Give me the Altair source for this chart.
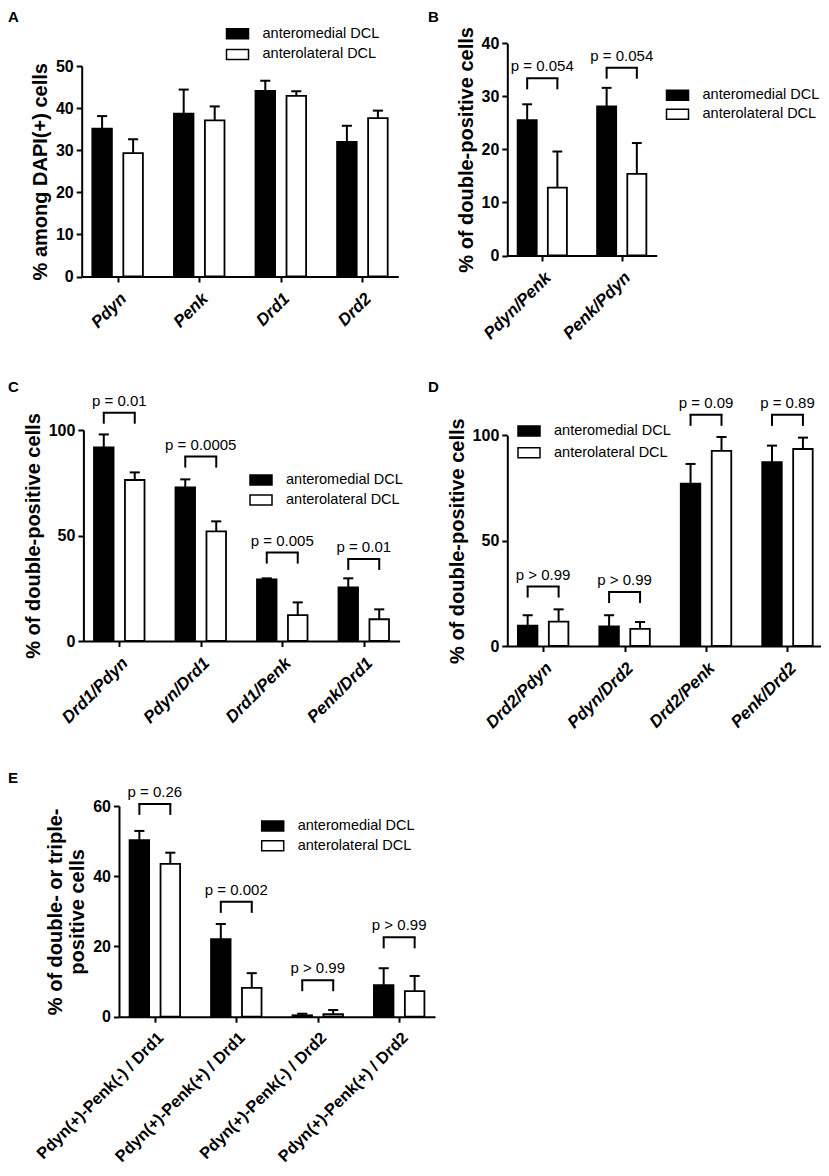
import json
import altair as alt
import pandas as pd

FONT = "Liberation Sans"
GROUPS = ["anteromedial DCL", "anterolateral DCL"]

# ---------------- data ----------------
# Panel A
a_cats = ["Pdyn", "Penk", "Drd1", "Drd2"]
a_med = [35.1, 38.7, 44.1, 32.0]
a_med_sem = [3.0, 5.7, 2.4, 3.8]
a_lat = [29.3, 37.1, 42.9, 37.6]
a_lat_sem = [3.3, 3.3, 1.1, 1.8]

# Panel B
b_cats = ["Pdyn/Penk", "Penk/Pdyn"]
b_med = [25.5, 28.1]
b_med_sem = [3.0, 3.5]
b_lat = [12.8, 15.4]
b_lat_sem = [6.8, 5.8]
b_brk = [33.4, 35.4]
b_p = ["p = 0.054", "p = 0.054"]

# Panel C
c_cats = ["Drd1/Pdyn", "Pdyn/Drd1", "Drd1/Penk", "Penk/Drd1"]
c_med = [91.8, 72.8, 29.2, 25.4]
c_med_sem = [6.1, 3.8, 0.5, 4.3]
c_lat = [76.3, 52.0, 12.3, 10.3]
c_lat_sem = [3.6, 4.7, 6.0, 4.7]
c_brk = [108.2, 87.4, 41.9, 38.9]
c_p = ["p = 0.01", "p = 0.0005", "p = 0.005", "p = 0.01"]

# Panel D
d_cats = ["Drd2/Pdyn", "Pdyn/Drd2", "Drd2/Penk", "Penk/Drd2"]
d_med = [9.6, 9.3, 77.1, 87.3]
d_med_sem = [5.0, 5.3, 9.3, 7.8]
d_lat = [11.6, 8.1, 92.6, 93.5]
d_lat_sem = [5.8, 3.3, 6.6, 5.4]
d_brk = [28.2, 25.6, 109.7, 109.7]
d_p = ["p > 0.99", "p > 0.99", "p = 0.09", "p = 0.89"]

# Panel E
e_cats = ["Pdyn(+)-Penk(-) / Drd1", "Pdyn(+)-Penk(+) / Drd1",
          "Pdyn(+)-Penk(-) / Drd2", "Pdyn(+)-Penk(+) / Drd2"]
e_med = [50.3, 22.1, 0.4, 9.0]
e_med_sem = [2.6, 4.3, 0.45, 4.8]
e_lat = [43.5, 8.2, 0.7, 7.3]
e_lat_sem = [3.2, 4.2, 1.2, 4.3]
e_brk = [60.6, 32.7, 10.4, 22.6]
e_p = ["p = 0.26", "p = 0.002", "p > 0.99", "p > 0.99"]

# ---------------- layout (page pixel geometry) ----------------
W, H = 813, 1160
M = 8  # page margin

geo = {
    "A": dict(x0=81.7, x1=398.3, y0=276.5, ytop=66.0, ymax=50, yticks=[0, 10, 20, 30, 40, 50],
              title="% among DAPI(+) cells", lx=218.5, ly=14.7, rp=1.7,
              lstyle="italic", lsize=17, lpad=8),
    "B": dict(x0=507.3, x1=656.7, y0=255.5, ytop=43.3, ymax=40, yticks=[0, 10, 20, 30, 40],
              title="% of double-positive cells", lx=658.5, ly=76.3, rp=0.0,
              lstyle="italic", lsize=17, lpad=8),
    "C": dict(x0=83.4, x1=399.6, y0=641.0, ytop=430.0, ymax=100, yticks=[0, 50, 100],
              title="% of double-positive cells", lx=242.0, ly=461.0, rp=1.0,
              lstyle="italic", lsize=17, lpad=8),
    "D": dict(x0=507.3, x1=823.3, y0=646.0, ytop=435.3, ymax=100, yticks=[0, 50, 100],
              title="% of double-positive cells", lx=510.0, ly=412.0, rp=2.7,
              lstyle="italic", lsize=17, lpad=8),
    "E": dict(x0=119.0, x1=435.0, y0=1016.7, ytop=806.0, ymax=60, yticks=[0, 20, 40, 60],
              title=["% of double- or triple-", "positive cells"], lx=253.7, ly=807.0, rp=0.7,
              lstyle="normal", lsize=16.3, lpad=7),
}


def panel(cats, med, med_sem, lat, lat_sem, brk, plab, g):
    n = len(cats)
    df = pd.DataFrame({
        "idx": list(range(n)) * 2,
        "gi": [0] * n + [1] * n,
        "group": [GROUPS[0]] * n + [GROUPS[1]] * n,
        "mean": med + lat,
        "sem": med_sem + lat_sem,
    })
    xs = alt.Scale(domain=[-0.44, n - 0.56], range=[g["x0"] - M, g["x1"] - M],
                   nice=False, zero=False)
    ys = alt.Scale(domain=[0, g["ymax"]], range=[g["y0"] - M, g["ytop"] - M],
                   nice=False, zero=False)

    base = alt.Chart(df).transform_calculate(
        c="datum.idx + (datum.gi == 0 ? -0.19 : 0.19)",
        top="datum.mean + datum.sem",
    ).transform_calculate(
        l="datum.c - 0.12", r="datum.c + 0.12",
        cl="datum.c - 0.062", cr="datum.c + 0.062",
    )

    xaxis = alt.Axis(
        orient="bottom", offset=(g["y0"] - M) - H, values=list(range(n)),
        labelExpr=f"{json.dumps(cats)}[datum.value]", title=None, grid=False,
        domainColor="black", domainWidth=2, tickColor="black", tickWidth=2, tickSize=5.5,
        labelAngle=-45, labelAlign="right", labelBaseline="top", labelPadding=g["lpad"],
        labelFont=FONT, labelFontSize=g["lsize"], labelFontWeight="bold",
        labelFontStyle=g["lstyle"], labelColor="black", labelOverlap=False,
        labelFlush=False, labelLimit=400,
    )
    yaxis = alt.Axis(
        orient="left", offset=-(g["x0"] - M), values=g["yticks"], title=g["title"],
        titleFont=FONT, titleFontSize=20, titleFontWeight="bold", titleColor="black",
        titlePadding=5, titleLineHeight=22, grid=False,
        domainColor="black", domainWidth=2, tickColor="black", tickWidth=2, tickSize=5.5,
        labelFont=FONT, labelFontSize=16, labelFontWeight="bold", labelColor="black",
        labelPadding=3, labelFlush=False,
    )
    legend = alt.Legend(
        title=None, orient="none", legendX=g["lx"], legendY=g["ly"], padding=0,
        rowPadding=g["rp"], symbolType="M-1.1,-0.5H1.1V0.5H-1.1Z", symbolSize=400,
        symbolStrokeColor="black", symbolStrokeWidth=1.5,
        labelFont=FONT, labelFontSize=14.5, labelColor="black", labelOffset=14.0,
        labelLimit=300,
    )

    bars = base.mark_bar(stroke="black", strokeWidth=1.8).encode(
        x=alt.X("l:Q", scale=xs, axis=xaxis),
        x2="r:Q",
        y=alt.Y("mean:Q", scale=ys, axis=yaxis, stack=None),
        y2=alt.datum(0),
        fill=alt.Fill("group:N", scale=alt.Scale(domain=GROUPS, range=["black", "white"]),
                      legend=legend),
    )
    err = base.mark_rule(color="black", strokeWidth=2).encode(
        x=alt.X("c:Q", scale=xs, axis=None),
        y=alt.Y("mean:Q", scale=ys, axis=None),
        y2="top:Q",
    )
    cap = base.mark_rule(color="black", strokeWidth=2).encode(
        x=alt.X("cl:Q", scale=xs, axis=None),
        x2="cr:Q",
        y=alt.Y("top:Q", scale=ys, axis=None),
    )
    layers = [bars, err, cap]

    if brk:
        bdf = pd.DataFrame({"idx": list(range(n)), "brk": brk, "label": plab})
        bb = alt.Chart(bdf).transform_calculate(l="datum.idx - 0.19", r="datum.idx + 0.19")
        hline = bb.mark_rule(color="black", strokeWidth=2, strokeCap="square").encode(
            x=alt.X("l:Q", scale=xs, axis=None), x2="r:Q",
            y=alt.Y("brk:Q", scale=ys, axis=None),
        )
        legs = bb.transform_fold(["l", "r"], as_=["side", "lx"]).mark_rule(
            color="black", strokeWidth=2, y2Offset=11
        ).encode(
            x=alt.X("lx:Q", scale=xs, axis=None),
            y=alt.Y("brk:Q", scale=ys, axis=None),
            y2="brk:Q",
        )
        txt = bb.mark_text(font=FONT, fontSize=15, baseline="alphabetic", dy=-7,
                           color="black").encode(
            x=alt.X("idx:Q", scale=xs, axis=None),
            y=alt.Y("brk:Q", scale=ys, axis=None),
            text="label:N",
        )
        layers += [hline, legs, txt]
    return layers


def letter(ch, x, y):
    return alt.Chart(pd.DataFrame({"L": [ch]})).mark_text(
        font=FONT, fontSize=15, fontWeight="bold", color="black",
        align="left", baseline="middle"
    ).encode(text="L:N", x=alt.value(x), y=alt.value(y))


all_layers = []
all_layers += panel(a_cats, a_med, a_med_sem, a_lat, a_lat_sem, None, None, geo["A"])
all_layers += panel(b_cats, b_med, b_med_sem, b_lat, b_lat_sem, b_brk, b_p, geo["B"])
all_layers += panel(c_cats, c_med, c_med_sem, c_lat, c_lat_sem, c_brk, c_p, geo["C"])
all_layers += panel(d_cats, d_med, d_med_sem, d_lat, d_lat_sem, d_brk, d_p, geo["D"])
all_layers += panel(e_cats, e_med, e_med_sem, e_lat, e_lat_sem, e_brk, e_p, geo["E"])
all_layers += [
    letter("A", 0, 9),
    letter("B", 420, 9),
    letter("C", 0, 379),
    letter("D", 420, 379),
    letter("E", 0, 769.5),
]

chart = alt.layer(*all_layers).resolve_scale(
    x="independent", y="independent", fill="independent"
).properties(
    width=W, height=H, padding=0, autosize=alt.AutoSizeParams(type="none")
).configure_view(stroke=None)

chart.save("out.html", embed_options={"renderer": "svg", "actions": False})
